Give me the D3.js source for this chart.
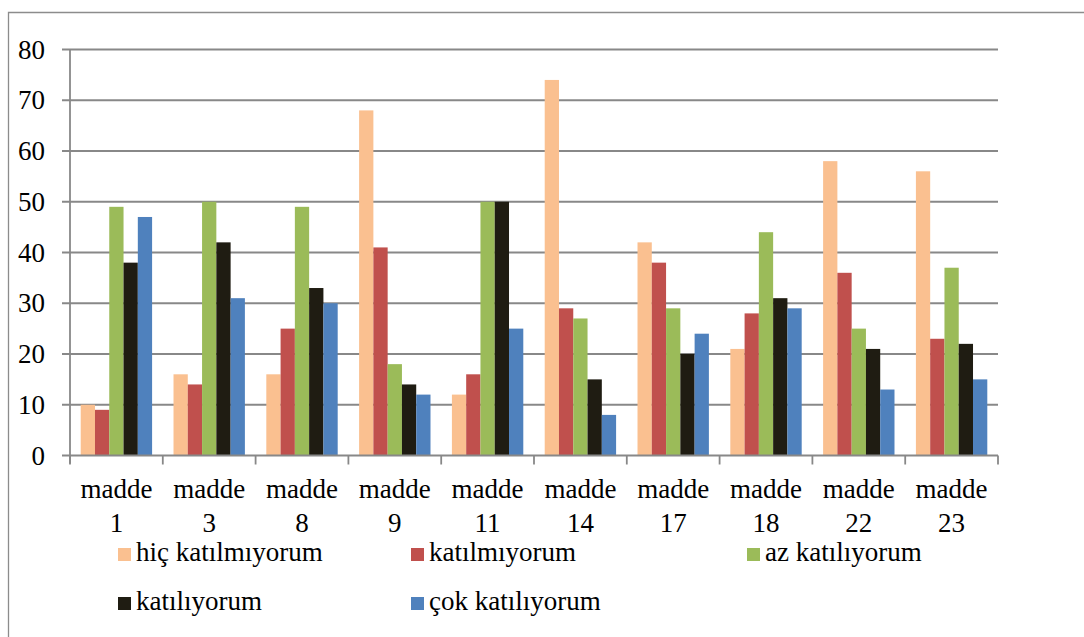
<!DOCTYPE html>
<html>
<head>
<meta charset="utf-8">
<script src="https://cdn.jsdelivr.net/npm/d3@7"></script>
<style>
  body { margin: 0; background: #fff; }
  text { font-family: "Liberation Serif", "Times New Roman", serif; fill: #000; }
</style>
</head>
<body>
<div id="chart"></div>
<script>
(function(){

    // data
    var categories = ["1", "3", "8", "9", "11", "14", "17", "18", "22", "23"];
    var seriesNames = ["hiç katılmıyorum", "katılmıyorum", "az katılıyorum", "katılıyorum", "çok katılıyorum"];
    var seriesColors = ["#fac090", "#c0504d", "#9bbb59", "#1f1c12", "#4f81bd"];
    var hicKatilmiyorum = [10, 16, 16, 68, 12, 74, 42, 21, 58, 56];
    var katilmiyorum    = [9, 14, 25, 41, 16, 29, 38, 28, 36, 23];
    var azKatiliyorum   = [49, 50, 49, 18, 50, 27, 29, 44, 25, 37];
    var katiliyorum     = [38, 42, 33, 14, 50, 15, 20, 31, 21, 22];
    var cokKatiliyorum  = [47, 31, 30, 12, 25, 8, 24, 29, 13, 15];
    var yTicks = [0, 10, 20, 30, 40, 50, 60, 70, 80];

    var seriesValues = [hicKatilmiyorum, katilmiyorum, azKatiliyorum, katiliyorum, cokKatiliyorum];

    //SVG
    var width = 1084;
    var height = 637;
    var plot = {left: 70, right: 998, top: 49.5, bottom: 455.5};
    var gridColor = "#888888";

    var svg = d3.select("#chart").append("svg")
        .attr("width", width)
        .attr("height", height);

    // outer frame (left and top edges only visible)
    svg.append("path")
        .attr("d", "M8.5," + height + " L8.5,12.5 L" + width + ",12.5")
        .style("fill", "none")
        .style("stroke", "#8c8c8c")
        .style("stroke-width", 1.3);

    var y = d3.scaleLinear().domain([0, 80]).range([plot.bottom, plot.top]);
    var x0 = d3.scaleBand().domain(categories).range([plot.left, plot.right]).padding(0);
    var x1 = d3.scaleBand().domain(d3.range(seriesNames.length))
        .range([0, x0.bandwidth()]).paddingInner(0).paddingOuter(0.75);

    // gridlines
    svg.append("g")
        .selectAll("line")
        .data(yTicks.filter(function(d){ return d > 0; }))
        .enter().append("line")
        .attr("x1", plot.left - 8)
        .attr("x2", plot.right)
        .attr("y1", function(d){ return y(d); })
        .attr("y2", function(d){ return y(d); })
        .style("stroke", gridColor)
        .style("stroke-width", 1.8);

    // y labels
    svg.append("g")
        .selectAll("text")
        .data(yTicks)
        .enter().append("text")
        .attr("x", 45)
        .attr("y", function(d){ return y(d); })
        .attr("dy", "0.34em")
        .attr("text-anchor", "end")
        .attr("font-size", "27px")
        .text(function(d){ return d; });

    // bars
    var groups = svg.append("g")
        .selectAll("g")
        .data(categories)
        .enter().append("g")
        .attr("transform", function(d){ return "translate(" + x0(d) + ",0)"; });

    groups.selectAll("rect")
        .data(function(d, i){
            return seriesValues.map(function(vals, s){ return {s: s, v: vals[i]}; });
        })
        .enter().append("rect")
        .attr("x", function(d){ return x1(d.s); })
        .attr("width", x1.bandwidth())
        .attr("y", function(d){ return y(d.v); })
        .attr("height", function(d){ return y(0) - y(d.v); })
        .style("fill", function(d){ return seriesColors[d.s]; });

    // y axis line and ticks
    svg.append("line")
        .attr("x1", plot.left).attr("x2", plot.left)
        .attr("y1", plot.top).attr("y2", plot.bottom + 8)
        .style("stroke", gridColor).style("stroke-width", 1.8);
    svg.append("line")
        .attr("x1", plot.left - 8).attr("x2", plot.right)
        .attr("y1", y(0)).attr("y2", y(0))
        .style("stroke", gridColor).style("stroke-width", 1.8);

    // x ticks at category boundaries
    var boundaries = categories.map(function(c){ return x0(c); }).concat([plot.right]);
    svg.append("g")
        .selectAll("line")
        .data(boundaries)
        .enter().append("line")
        .attr("x1", function(d){ return d; })
        .attr("x2", function(d){ return d; })
        .attr("y1", y(0))
        .attr("y2", y(0) + 9)
        .style("stroke", gridColor)
        .style("stroke-width", 1.8);

    // x labels
    var xl = svg.append("g")
        .selectAll("text")
        .data(categories)
        .enter().append("text")
        .attr("text-anchor", "middle")
        .attr("font-size", "27px")
        .attr("x", function(d){ return x0(d) + x0.bandwidth() / 2; });
    xl.append("tspan")
        .attr("x", function(d){ return x0(d) + x0.bandwidth() / 2; })
        .attr("y", 498)
        .text("madde");
    xl.append("tspan")
        .attr("x", function(d){ return x0(d) + x0.bandwidth() / 2; })
        .attr("y", 532)
        .text(function(d){ return d; });

    // legend
    var legendCols = [118, 411, 747];
    var legendRows = [561, 610];
    var legend = svg.append("g")
        .selectAll("g")
        .data(seriesNames)
        .enter().append("g")
        .attr("transform", function(d, i){
            return "translate(" + legendCols[i % 3] + "," + legendRows[Math.floor(i / 3)] + ")";
        });
    legend.append("rect")
        .attr("x", 0)
        .attr("y", -13)
        .attr("width", 13)
        .attr("height", 13)
        .style("fill", function(d, i){ return seriesColors[i]; });
    legend.append("text")
        .attr("x", 18)
        .attr("y", 0)
        .attr("font-size", "27px")
        .text(function(d){ return d; });

})();
</script>
</body>
</html>
